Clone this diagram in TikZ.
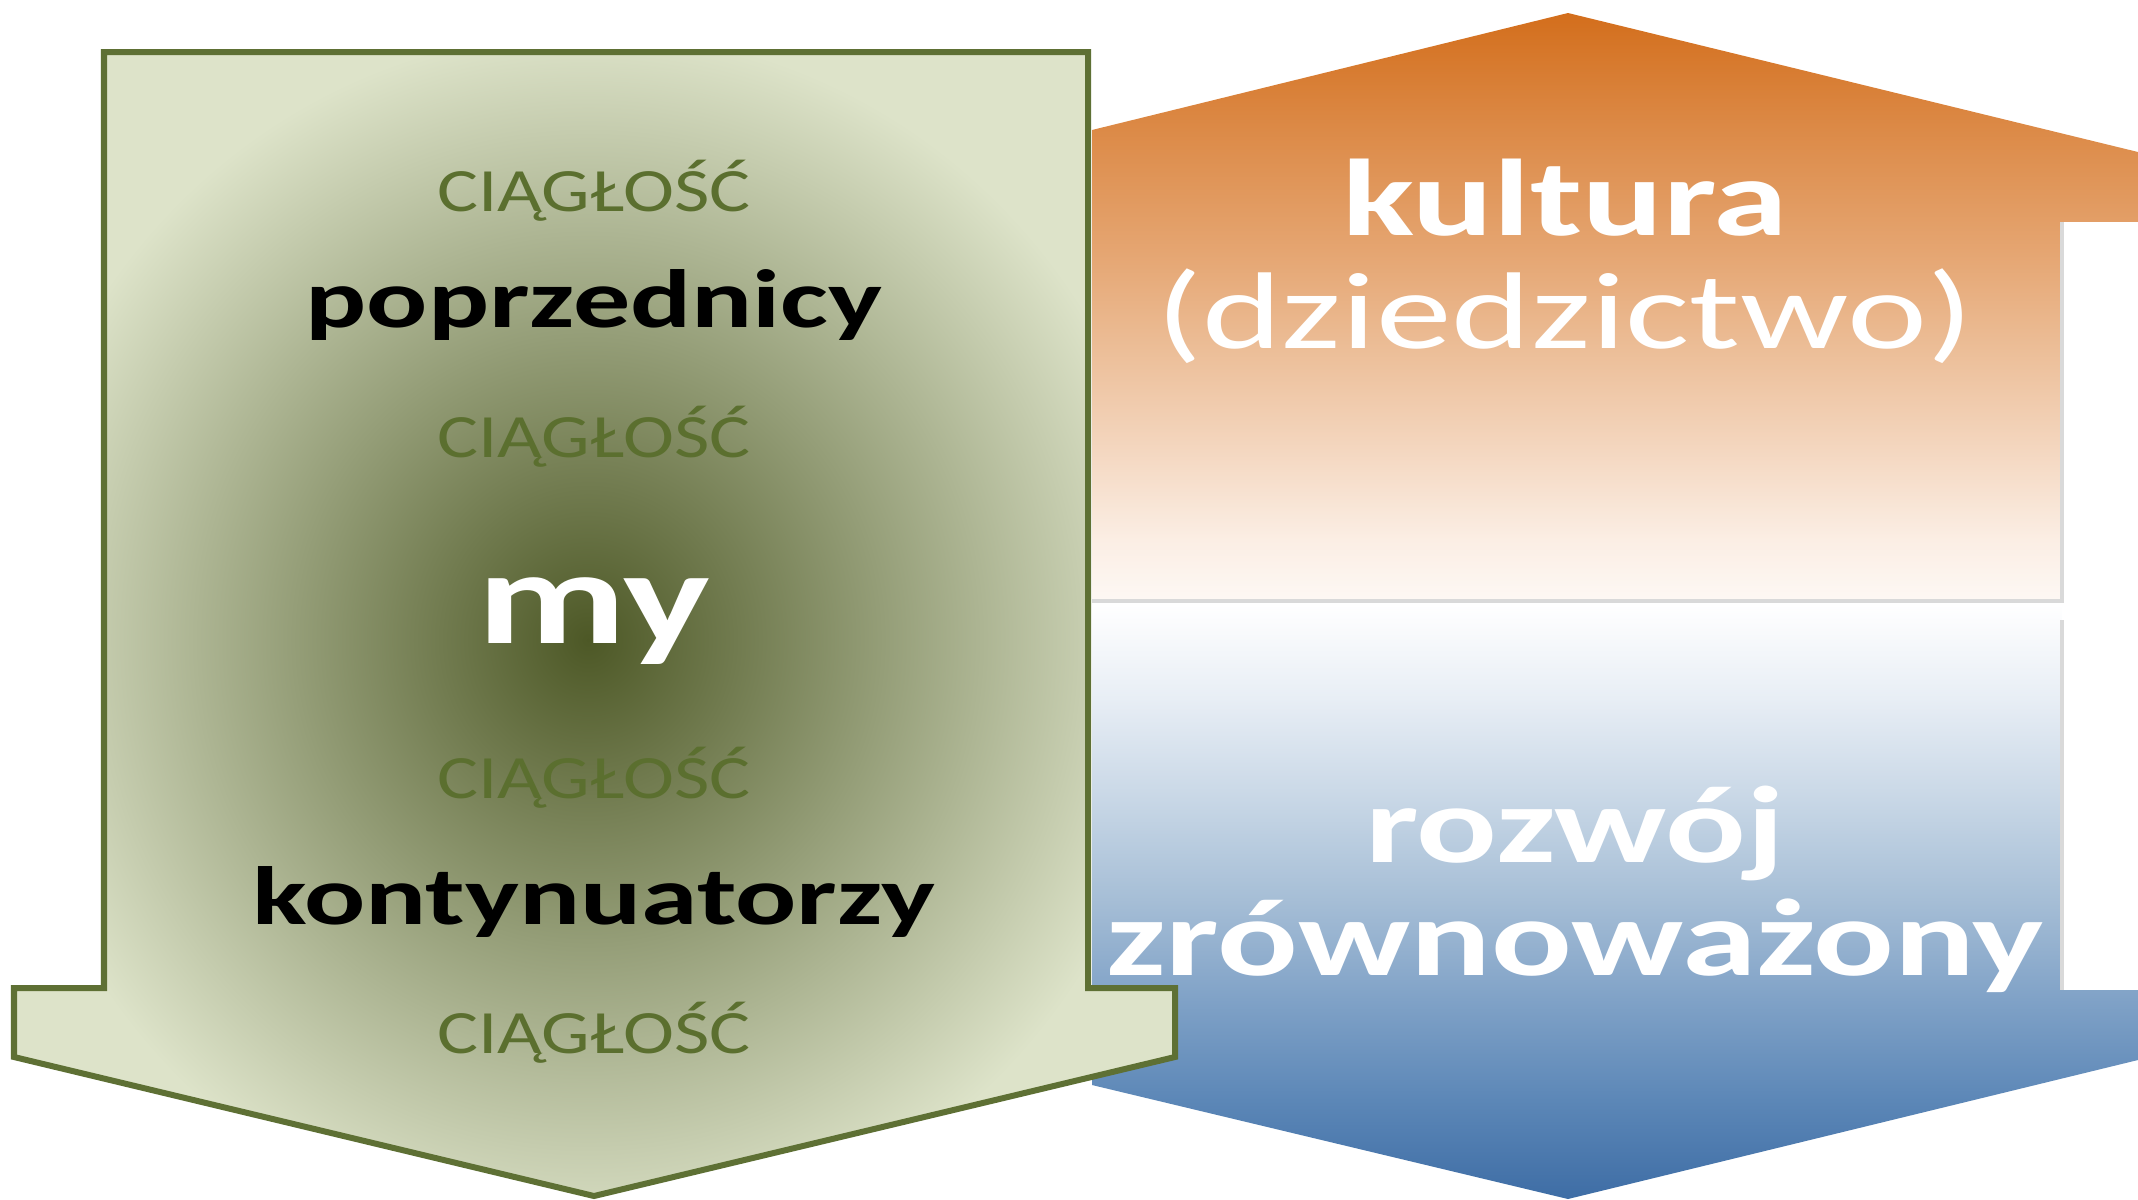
\documentclass[tikz,border=0pt]{standalone}
\usepackage{fontspec}
\setmainfont{Carlito}
\definecolor{gdark}{HTML}{4D5826}
\definecolor{gmid}{HTML}{959E78}
\definecolor{glight}{HTML}{DDE3C9}
\definecolor{gborder}{HTML}{5E7034}
\definecolor{ctxt}{HTML}{5B6F2F}
\definecolor{panelgray}{HTML}{D9D9D9}
\definecolor{o0}{HTML}{FDF8F4}
\definecolor{o1}{HTML}{FBEEE4}
\definecolor{o2}{HTML}{F4D7C0}
\definecolor{o3}{HTML}{ECBE98}
\definecolor{o4}{HTML}{E5A571}
\definecolor{o5}{HTML}{DC8A47}
\definecolor{o6}{HTML}{D36E1C}
\definecolor{b0}{HTML}{3E6DA5}
\definecolor{b1}{HTML}{5C87B7}
\definecolor{b2}{HTML}{80A2C7}
\definecolor{b3}{HTML}{A6BED6}
\definecolor{b4}{HTML}{C8D7E6}
\definecolor{b5}{HTML}{E8EEF5}
\definecolor{b6}{HTML}{FFFFFF}
\pgfdeclareverticalshading{orangesh}{100bp}{color(0bp)=(o0); color(25bp)=(o0); color(30.2bp)=(o1); color(37.8bp)=(o2); color(46.3bp)=(o3); color(54.8bp)=(o4); color(65.1bp)=(o5); color(75bp)=(o6); color(100bp)=(o6)}
\pgfdeclareverticalshading{bluesh}{100bp}{color(0bp)=(b0); color(25bp)=(b0); color(33.3bp)=(b1); color(41.8bp)=(b2); color(50.2bp)=(b3); color(58.6bp)=(b4); color(67.1bp)=(b5); color(75bp)=(b6); color(100bp)=(b6)}
\pgfdeclareradialshading{greenrad}{\pgfpoint{0bp}{0bp}}{color(0bp)=(gdark); color(12.5bp)=(gmid); color(25bp)=(glight); color(50bp)=(glight)}
\tikzset{
  cont/.style={font=\fontsize{17.5}{19}\selectfont, text=ctxt, xscale=1.25, anchor=base, inner sep=0pt},
  gen/.style={font=\bfseries\fontsize{23.5}{26}\selectfont, text=black, xscale=1.38, anchor=base, inner sep=0pt},
  mytext/.style={font=\bfseries\fontsize{38}{40}\selectfont, text=white, xscale=1.37, anchor=base, inner sep=0pt},
  bigw/.style={font=\bfseries\fontsize{31}{34}\selectfont, text=white, xscale=1.38, anchor=base, inner sep=0pt},
  bigwr/.style={font=\fontsize{31}{34}\selectfont, text=white, xscale=1.39, anchor=base, inner sep=0pt},
  panelline/.style={draw=panelgray, line width=0.035cm},
  arrowline/.style={draw=gborder, line width=0.06cm, line join=miter}
}
\begin{document}
\begin{tikzpicture}[x=0.01cm,y=-0.01cm]
\path[use as bounding box, fill=white] (0,0) rectangle (2138,1199);
% orange upper panel
\shade[shading=orangesh] (1092,130) -- (1568,13) -- (2138,152) -- (2138,601) -- (1092,601) -- cycle;
% blue lower panel
\shade[shading=bluesh] (1092,604) -- (2138,604) -- (2138,1060) -- (1568,1199) -- (1092,1085) -- cycle;
% white box at right
\fill[white] (2062,222) rectangle (2138,990);
\draw[panelline] (2062,222) -- (2062,601) -- (1092,601);
\draw[panelline] (2062,620) -- (2062,990);
% green arrow
\begin{scope}
\clip (104,52) -- (1088,52) -- (1088,988) -- (1175,988) -- (1175,1057) -- (594,1196) -- (14,1057) -- (14,988) -- (104,988) -- cycle;
\fill[glight] (0,0) rectangle (1200,1199);
\shade[shading=greenrad] (588,640) ellipse [x radius=5.9cm, y radius=6.1cm];
\end{scope}
\draw[arrowline] (104,52) -- (1088,52) -- (1088,988) -- (1175,988) -- (1175,1057) -- (594,1196) -- (14,1057) -- (14,988) -- (104,988) -- cycle;
% texts
\node[cont] (c1) at (594,211) {CIĄGŁOŚĆ};
\node[gen] (poprz) at (594,327) {poprzednicy};
\node[cont] (c2) at (594,457) {CIĄGŁOŚĆ};
\node[mytext] (my) at (594,643) {my};
\node[cont] (c3) at (594,798) {CIĄGŁOŚĆ};
\node[gen] (kont) at (594,924) {kontynuatorzy};
\node[cont] (c4) at (594,1053) {CIĄGŁOŚĆ};
\node[bigw] (kult) at (1565,235) {kultura};
\node[bigwr] (dzie) at (1565,348) {(dziedzictwo)};
\node[bigw] (rozw) at (1575,862) {rozwój};
\node[bigw] (zrow) at (1575,975) {zrównoważony};
\end{tikzpicture}
\end{document}
